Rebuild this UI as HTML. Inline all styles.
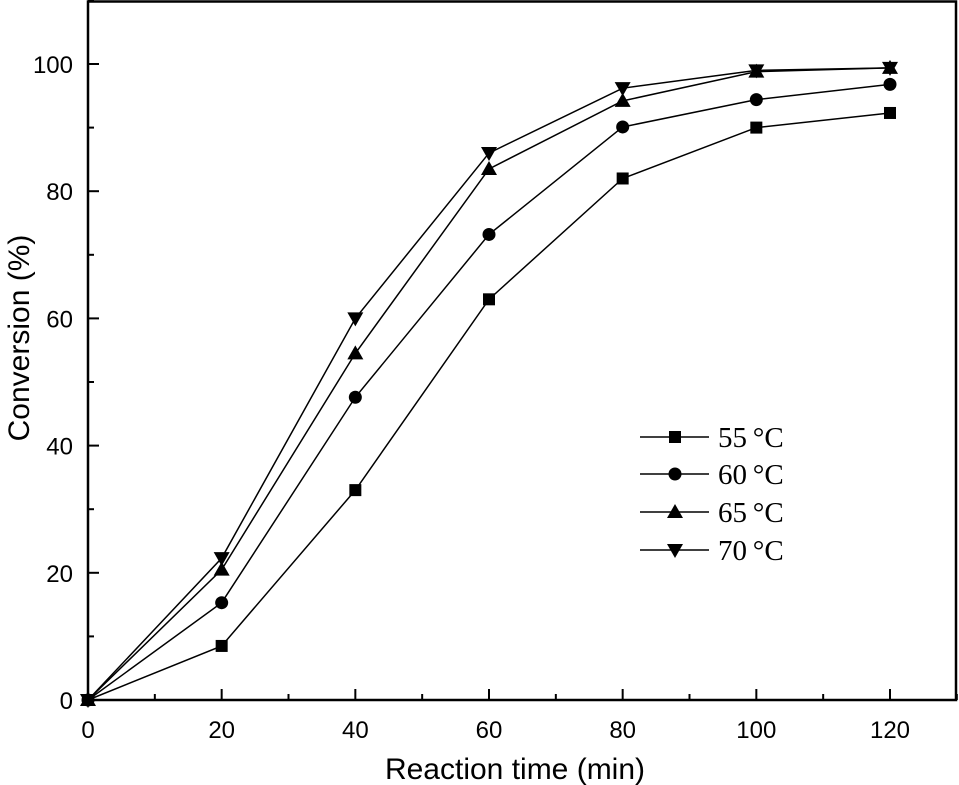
<!DOCTYPE html>
<html><head><meta charset="utf-8"><style>
body{margin:0;background:#fff}
svg{display:block}
text{font-family:"Liberation Sans",sans-serif;fill:#000}
</style></head><body>
<svg id="chart" width="959" height="785" viewBox="0 0 959 785" xmlns="http://www.w3.org/2000/svg"></svg>
<script>
const times=[0,20,40,60,80,100,120];
const s55=[0,8.5,33,63,82,90,92.3];
const s60=[0,15.3,47.6,73.2,90.1,94.4,96.8];
const s65=[0,20.5,54.5,83.5,94.2,98.8,99.4];
const s70=[0,22.3,60,86,96.2,99,99.4];
const seriesNames=["55\u2009\u00b0C","60\u2009\u00b0C","65\u2009\u00b0C","70\u2009\u00b0C"];
const xTicks=[0,20,40,60,80,100,120];
const yTicks=[0,20,40,60,80,100];

const NS="http://www.w3.org/2000/svg";
const svg=document.getElementById('chart');
const X=v=>88+v*(890-88)/120;
const Y=v=>700-v*(700-64)/100;
function el(tag,attrs,parent){const e=document.createElementNS(NS,tag);for(const k in attrs)e.setAttribute(k,attrs[k]);(parent||svg).appendChild(e);return e;}

const frame=el('rect',{x:88,y:1.5,width:868,height:698.5,fill:'none',stroke:'#000','stroke-width':2.5});



for(let v=0;v<=130;v+=10){
  const major=v%20===0;
  const t=el('line',{x1:X(v),x2:X(v),y1:700,y2:700-(major?11:6),stroke:'#000','stroke-width':2});
  
  
}
xTicks.forEach(v=>{
  const t=el('text',{x:X(v),y:738,'font-size':24,'text-anchor':'middle'});
  t.textContent=v;
  
  
});
for(let v=0;v<=110;v+=10){
  const major=v%20===0;
  const t=el('line',{x1:88,x2:88+(major?11:6),y1:Y(v),y2:Y(v),stroke:'#000','stroke-width':2});
  
  
}
yTicks.forEach(v=>{
  const t=el('text',{x:73,y:Y(v)+9,'font-size':24,'text-anchor':'end'});
  t.textContent=v;
  
  
});
const xt=el('text',{x:515,y:779,'font-size':30,'text-anchor':'middle'});
xt.textContent='Reaction time (min)';


const yt=el('text',{x:0,y:0,'font-size':30,'text-anchor':'middle',transform:'translate(29,338) rotate(-90)'});
yt.textContent='Conversion (%)';



function marker(type,cx,cy,g){
  if(type===0)return el('rect',{x:cx-6,y:cy-6,width:12,height:12,fill:'#000'},g);
  if(type===1)return el('circle',{cx:cx,cy:cy,r:6.5,fill:'#000'},g);
  if(type===2)return el('polygon',{points:`${cx},${cy-8} ${cx-8},${cy+6} ${cx+8},${cy+6}`,fill:'#000'},g);
  return el('polygon',{points:`${cx},${cy+8} ${cx-8},${cy-6} ${cx+8},${cy-6}`,fill:'#000'},g);
}
const allSeries=[s55,s60,s65,s70];
allSeries.forEach((s,i)=>{
  const g=el('g',{});
  
  
  const pl=el('polyline',{points:s.map((v,j)=>X(times[j])+','+Y(v)).join(' '),fill:'none',stroke:'#000','stroke-width':1.5},g);
  
  
  s.forEach((v,j)=>{
    const m=marker(i,X(times[j]),Y(v),g);
    
    
  });
});
const legY=[437,474,512,550];
const lg=el('g',{});


seriesNames.forEach((n,i)=>{
  const g=el('g',{},lg);
  
  
  el('line',{x1:640,x2:709,y1:legY[i],y2:legY[i],stroke:'#000','stroke-width':1.5},g);
  marker(i,675,legY[i],g);
  const t=el('text',{x:718,y:legY[i]+10,'font-size':29,style:'font-family:"Liberation Serif",serif'},g);
  t.textContent=n;
});
</script>
</body></html>
